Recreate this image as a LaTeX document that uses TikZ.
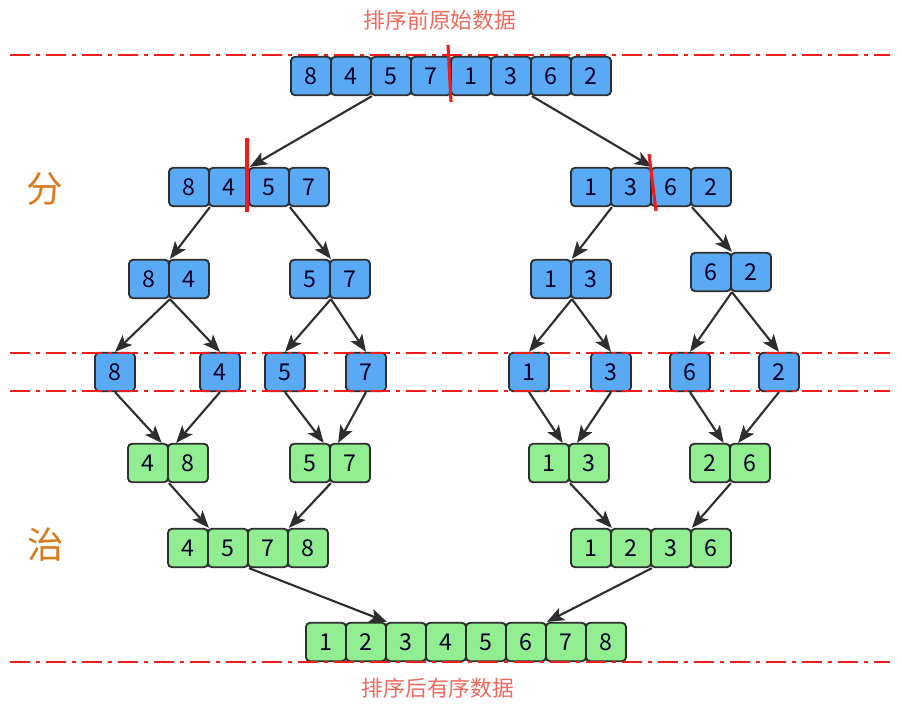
\documentclass[tikz,border=0pt]{standalone}
\usepackage{fontspec}
\setmainfont{Noto Sans CJK SC}
\usetikzlibrary{arrows.meta}

\definecolor{splitblue}{HTML}{5AA9F5}
\definecolor{mergegreen}{HTML}{90EE90}
\definecolor{cellline}{HTML}{2E2E2E}
\definecolor{cutred}{HTML}{EE1C1C}
\definecolor{titlered}{HTML}{EE6A5E}
\definecolor{stepbrown}{HTML}{D97A1E}

\tikzset{
  cell/.style={draw=cellline, line width=1.3pt, rounded corners=1mm,
    minimum width=10mm, minimum height=9.6mm, inner sep=0pt,
    text=black!85!blue, font=\fontsize{16.5}{18}\selectfont},
  splitcell/.style={cell, fill=splitblue},
  mergecell/.style={cell, fill=mergegreen},
  guide/.style={cutred, line width=1.4pt, dash pattern=on 5mm off 1.5mm on 1mm off 1.5mm},
  link/.style={->, cellline, line width=1.5pt},
}

% one row of cells: name, style, left x, centre y, values
\newcommand\cellrow[5]{%
  \foreach \v [count=\i] in {#5}
    \node[#2] (#1\i) at ({#3+40*\i-20}, #4) {\v};}

\begin{document}
\begin{tikzpicture}[>={Stealth[length=4.3mm, width=3.4mm, inset=1mm]}, x=0.25mm, y=-0.25mm]
  \useasboundingbox[fill=white] (0,0) rectangle (901,709);

  % Titles
  \node[text=titlered, font=\fontsize{15.5}{18}\selectfont] (before) at (440,20) {排序前原始数据};
  \node[text=titlered, font=\fontsize{15.5}{18}\selectfont] (after) at (438,688) {排序后有序数据};
  \node[text=stepbrown, font=\fontsize{26}{30}\selectfont] (divide) at (45,189) {分};
  \node[text=stepbrown, font=\fontsize{26}{30}\selectfont] (conquer) at (46,545) {治};

  % Splitting (blue)
  \cellrow{top}{splitcell}{291}{76}{8,4,5,7,1,3,6,2}
  \cellrow{sl}{splitcell}{169}{187}{8,4,5,7}
  \cellrow{sr}{splitcell}{571}{187}{1,3,6,2}
  \cellrow{sll}{splitcell}{129}{279}{8,4}
  \cellrow{slr}{splitcell}{290}{279}{5,7}
  \cellrow{srl}{splitcell}{531}{279}{1,3}
  \cellrow{srr}{splitcell}{691}{272}{6,2}

  % Single cells
  \node[splitcell] (s1) at (115,372) {8};
  \node[splitcell] (s2) at (220,372) {4};
  \node[splitcell] (s3) at (285,372) {5};
  \node[splitcell] (s4) at (366,372) {7};
  \node[splitcell] (s5) at (529,372) {1};
  \node[splitcell] (s6) at (611,372) {3};
  \node[splitcell] (s7) at (690,372) {6};
  \node[splitcell] (s8) at (779,372) {2};

  % Merging (green)
  \cellrow{mll}{mergecell}{128}{463}{4,8}
  \cellrow{mlr}{mergecell}{290}{463}{5,7}
  \cellrow{mrl}{mergecell}{529}{463}{1,3}
  \cellrow{mrr}{mergecell}{690}{463}{2,6}
  \cellrow{ml}{mergecell}{168}{548}{4,5,7,8}
  \cellrow{mr}{mergecell}{571}{548}{1,2,3,6}
  \cellrow{all}{mergecell}{306}{642}{1,2,3,4,5,6,7,8}

  % Arrows, split
  \draw[link] (top2.south east) -- (sl2.north east);
  \draw[link] (top6.south east) -- (sr2.north east);
  \draw[link] (sl1.south east) -- (sll1.north east);
  \draw[link] (sl3.south east) -- (slr1.north east);
  \draw[link] (sr1.south east) -- (srl1.north east);
  \draw[link] (sr3.south east) -- (srr1.north east);
  \draw[link] (sll1.south east) -- (s1.north);
  \draw[link] (sll1.south east) -- (s2.north);
  \draw[link] (slr1.south east) -- (s3.north);
  \draw[link] (slr1.south east) -- (s4.north);
  \draw[link] (srl1.south east) -- (s5.north);
  \draw[link] (srl1.south east) -- (s6.north);
  \draw[link] (srr1.south east) -- (s7.north);
  \draw[link] (srr1.south east) -- (s8.north);

  % Arrows, merge
  \draw[link] (s1.south) -- ([xshift=-1.8mm]mll1.north east);
  \draw[link] (s2.south) -- ([xshift=1.8mm]mll1.north east);
  \draw[link] (s3.south) -- ([xshift=-1.8mm]mlr1.north east);
  \draw[link] (s4.south) -- ([xshift=1.8mm]mlr1.north east);
  \draw[link] (s5.south) -- ([xshift=-1.8mm]mrl1.north east);
  \draw[link] (s6.south) -- ([xshift=1.8mm]mrl1.north east);
  \draw[link] (s7.south) -- ([xshift=-1.8mm]mrr1.north east);
  \draw[link] (s8.south) -- ([xshift=1.8mm]mrr1.north east);
  \draw[link] (mll1.south east) -- (ml1.north east);
  \draw[link] (mlr1.south east) -- (ml3.north east);
  \draw[link] (mrl1.south east) -- (mr1.north east);
  \draw[link] (mrr1.south east) -- (mr3.north east);
  \draw[link] (ml2.south east) -- (all2.north east);
  \draw[link] (mr2.south east) -- (all6.north east);

  % Red guide lines
  \draw[guide] (10,55) -- (890,55);
  \draw[guide] (10,353) -- (890,353);
  \draw[guide] (10,391) -- (890,391);
  \draw[guide] (10,662) -- (890,662);

  % Red cut marks
  \draw[cutred, line width=2.2pt] (448,45) -- (451,102);
  \draw[cutred, line width=2.2pt] (247,138) -- (247,212);
  \draw[cutred, line width=2.2pt] (649,154) -- (656,211);
\end{tikzpicture}
\end{document}
